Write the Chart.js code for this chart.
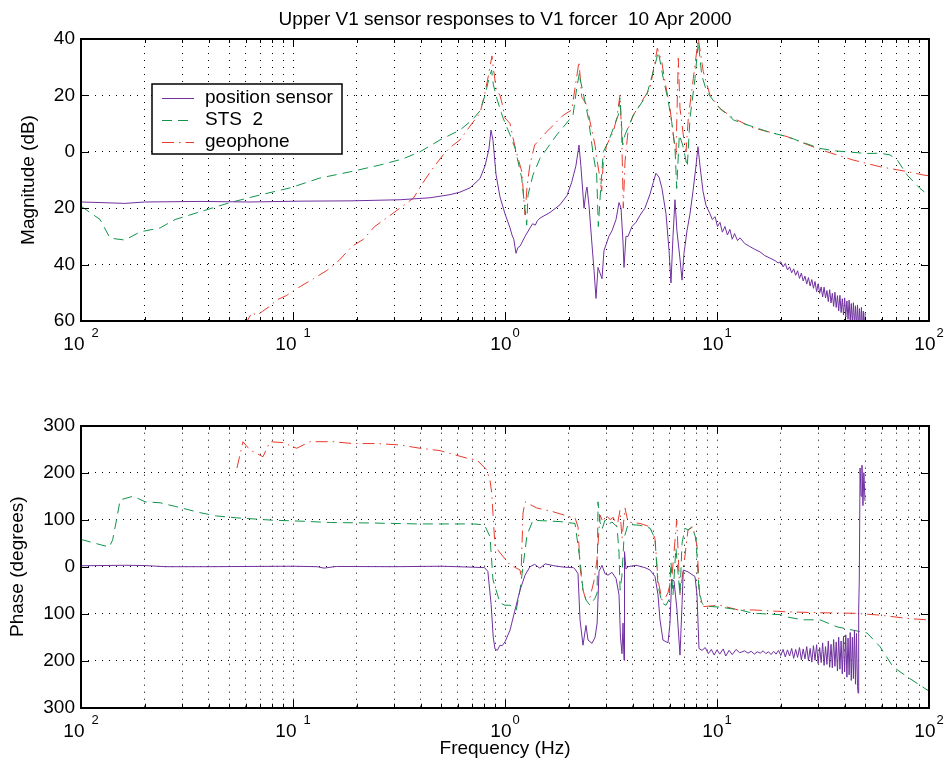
<!DOCTYPE html>
<html>
<head>
<meta charset="utf-8">
<script src="https://cdn.jsdelivr.net/npm/chart.js@4.4.1/dist/chart.umd.min.js"></script>
<style>
  body { margin: 0; background: #fff; }
  .panel { position: absolute; left: 0; width: 945px; height: 383px; }
</style>
</head>
<body>
<div class="panel" style="top:0"><canvas id="mag"></canvas></div>
<div class="panel" style="top:383px"><canvas id="phase"></canvas></div>
<script>
// ---- data: [frequency Hz, value] ----
const chartTitle = 'Upper V1 sensor responses to V1 forcer  10 Apr 2000';
const seriesLabels = ['position sensor', 'STS  2', 'geophone'];
const decadeExps = [-2, -1, 0, 1, 2];
const magTicks = [-60, -40, -20, 0, 20, 40];
const phaseTicks = [-300, -200, -100, 0, 100, 200, 300];

const posMag = [[0.01,-17.8],[0.0123,-18.0],[0.0161,-18.3],[0.02,-17.8],[0.0364,-17.6],[0.0627,-17.8],[0.108,-17.5],
  [0.186,-17.4],[0.32,-17.0],[0.443,-16.3],[0.55,-15.2],[0.613,-14.3],[0.684,-12.8],[0.762,-9.5],[0.805,-5],[0.84,1],
  [0.859,7.7],[0.878,4],[0.907,-8],[0.947,-16],[1.0,-22],[1.056,-27],[1.079,-29.5],[1.1,-31],[1.127,-36],[1.15,-34],
  [1.177,-33.5],[1.243,-30],[1.312,-27],[1.35,-25.5],[1.39,-26],[1.42,-24.5],[1.463,-23.5],[1.631,-21.5],[1.817,-18.8],
  [1.96,-15.5],[2.06,-11],[2.16,-5],[2.234,2.4],[2.28,-5],[2.359,-20],[2.411,-14],[2.437,-12.5],[2.49,-19],[2.573,-33],
  [2.63,-42],[2.687,-52],[2.746,-41],[2.806,-43],[2.868,-45],[2.93,-35],[2.995,-33],[3.09,-30],[3.197,-28],[3.34,-24],
  [3.45,-18],[3.526,-20],[3.603,-32],[3.642,-41],[3.72,-30],[3.804,-30],[3.97,-26.5],[4.15,-25],[4.333,-22.5],[4.57,-20],
  [4.831,-15],[5.0,-11],[5.15,-7.6],[5.33,-9],[5.5,-13],[5.747,-22],[5.94,-35],[6.067,-46.5],[6.2,-30],[6.337,-17],
  [6.47,-28],[6.69,-38],[6.84,-45.5],[6.987,-36],[7.22,-28],[7.458,-22],[7.705,-14],[7.96,-5],[8.135,1.8],[8.313,-5],
  [8.59,-14],[8.87,-19],[9.268,-22],[9.5,-24],[9.8,-23],[10.05,-26.5],[10.33,-25],[10.6,-28.5],[10.9,-26.5],[11.2,-29.5],
  [11.5,-27.5],[11.8,-31],[12.1,-29],[12.5,-31.5],[12.84,-30.5],[13.5,-32.5],[14.2,-33.5],[15.0,-34.5],[15.95,-35.5],
  [16.8,-36.8],[17.78,-37.7],[18.8,-38.6],[19.4,-39.4],
  [20,-39.0],[20.5,-40.8],[21,-39.6],[21.5,-41.9],[22,-40.8],[22.5,-42.9],[23,-41.5],[23.5,-43.8],[24,-42.2],[24.5,-44.9],
  [25,-43.0],[25.5,-45.8],[26,-44.1],[26.5,-46.9],[27,-44.6],[27.5,-47.6],[28,-45.3],[28.5,-48.4],[29,-46.0],[29.5,-49.6],
  [30,-46.8],[30.5,-50.2],[31,-47.9],[31.5,-51.5],[32,-48.0],[32.5,-51.8],[33,-49.2],[33.5,-53.1],[34,-48.9],[34.5,-53.6],
  [35,-50.2],[35.5,-54.8],[36,-49.8],[36.5,-55.2],[37,-51.0],[37.5,-56.4],[38,-50.9],[38.5,-57.0],[39,-52.1],[39.5,-57.9],
  [40,-51.8],[40.5,-58.6],[41,-52.9],[41.5,-59.4],[42,-52.6],[42.5,-60.1],[43,-53.8],[43.5,-61.0],[44,-53.5],[44.5,-61.6],
  [45,-54.6],[45.5,-62.2],[46,-54.3],[46.5,-62.8],[47,-55.6],[47.5,-63.4],[48,-55.2],[48.5,-63.8],[49,-56.5],[49.5,-64.2],
  [50,-57.0]];

const stsMag = [[0.01,-19.3],[0.0123,-24],[0.0137,-30.6],[0.0161,-31.3],[0.019,-28.4],[0.0236,-27],[0.0278,-24],
  [0.0364,-21.3],[0.0505,-18],[0.07,-15.3],[0.0968,-12.8],[0.134,-9.3],[0.186,-7.1],[0.257,-4.7],[0.33,-2.5],[0.397,0],
  [0.4935,4.2],[0.613,7.7],[0.70,11.3],[0.762,14.5],[0.805,20],[0.84,26],[0.865,29],[0.88,24],[0.914,19],[0.979,12],
  [1.056,6],[1.115,1.3],[1.152,-3.5],[1.199,-9.3],[1.216,-14],[1.266,-26],[1.284,-15.3],[1.355,-8.2],[1.463,-2.3],
  [1.754,6],[1.919,9.5],[2.093,13],[2.179,22.6],[2.246,28],[2.259,26],[2.385,17.8],[2.472,11.9],[2.609,-1.1],[2.707,-8.2],
  [2.755,-26.5],[2.828,-13],[2.909,0],[3.071,3.6],[3.243,8.3],[3.423,13],[3.487,19],[3.592,2.4],[3.681,6],[4.029,13],
  [4.66,20.1],[5.1,30.8],[5.286,35.5],[5.581,26],[5.893,17.8],[6.113,10.7],[6.337,1.2],[6.457,-13],[6.641,6],[6.889,2.4],
  [7.241,-5.3],[7.458,11.9],[7.875,26],[8.162,39],[8.47,27.2],[8.941,21.3],[9.968,16.6],[10.6,14.5],[11.3,13.2],[11.94,11.3],
  [13.2,10.1],[14.79,8.9],[17.5,7],[21.39,5.4],[25.5,3.3],[30.6,1.2],[36.5,0.3],[43.8,-0.2],[51,-0.6],[58.73,-0.5],
  [65.46,-1.1],[71,-3],[78.75,-8.2],[90.69,-13],[100,-15.5]];

const geoMag = [[0.058,-61],[0.0608,-60],[0.064,-57],[0.0675,-58],[0.072,-56.5],[0.077,-55],[0.084,-52.5],[0.093,-51],
  [0.108,-47.8],[0.125,-45],[0.145,-42],[0.165,-38.5],[0.19,-33.5],[0.215,-31],[0.242,-26.6],[0.27,-24],[0.3,-21.5],
  [0.34,-18.5],[0.37,-16.4],[0.41,-11],[0.45,-6.5],[0.506,-1.5],[0.55,1.5],[0.613,4.2],[0.69,9.5],[0.762,13.7],[0.80,20],
  [0.835,27],[0.868,34],[0.88,30],[0.91,22],[0.947,20],[0.97,17],[1.0,12],[1.056,10],[1.09,5],[1.13,0],[1.2,-7],
  [1.243,-22.4],[1.27,-12.4],[1.31,-4.7],[1.38,2.4],[1.573,7.1],[1.884,13],[2.064,14.8],[2.234,32],[2.301,19.5],
  [2.429,16.6],[2.518,10.7],[2.658,2.4],[2.725,-3.5],[2.806,-9.4],[2.858,-14],[2.909,-3.5],[3.018,2.4],[3.243,7.1],
  [3.364,11.9],[3.487,20.1],[3.552,6],[3.614,-20],[3.681,-3.5],[3.816,8.3],[4.029,13],[4.413,17.8],[4.831,22.5],[5.1,32],
  [5.23,36.7],[5.485,32],[5.685,24.9],[6.002,15.4],[6.221,6],[6.405,-1.1],[6.568,33.2],[6.69,15.4],[6.934,6],[7.141,0],
  [7.322,11.9],[7.731,26],[8.162,40.2],[8.617,28.4],[9.268,20.1],[10.33,15.4],[11.94,11.9],[14.79,8.5],[21.39,5.4],
  [30.6,0.8],[43.8,-2.9],[58.73,-5.3],[78.75,-7],[93.69,-8.2],[100,-8.5]];

const posPhase = [[0.01,2],[0.016,3],[0.02,2.5],[0.025,0],[0.04,0],[0.1,1],[0.13,0],[0.14,-3],[0.16,0.5],[0.3,0],[0.5,1],
  [0.7,-1],[0.8,-2],[0.83,-10],[0.86,-80],[0.88,-150],[0.897,-175],[0.92,-178],[0.947,-167],[0.97,-168],[1.0,-160],
  [1.056,-135],[1.115,-92],[1.177,-50],[1.243,-18],[1.312,0],[1.38,5],[1.46,-3],[1.55,6],[1.7,2],[1.9,-1],[2.1,-2],
  [2.139,-5],[2.21,-15],[2.259,-113],[2.333,-167],[2.41,-125],[2.464,-156],[2.573,-163],[2.66,-150],[2.72,-120],
  [2.776,-10],[2.868,3],[2.963,-15],[3.061,-18],[3.197,-12],[3.34,-25],[3.45,-60],[3.505,-150],[3.564,-185],[3.603,-120],
  [3.642,-199],[3.662,32],[3.72,-5],[3.804,0],[4.15,3],[4.57,-2],[4.831,-7],[5.1,-21],[5.269,-60],[5.384,-113],
  [5.56,-156],[5.873,-162],[6.002,-120],[6.113,-28],[6.268,-30],[6.47,-90],[6.69,-188],[6.84,-80],[6.934,-7],[7.297,-11],
  [7.875,-21],[8.047,-60],[8.224,-174],[8.5,-178],[8.8,-172],[9.1,-185],[9.4,-176],[9.7,-188],[10.0,-177],[10.3,-186],
  [10.7,-175],[11.0,-190],[11.4,-178],[11.8,-187],[12.3,-176],[12.8,-183],
  [13,-182],[13.5,-179],[14,-184],[14.5,-180],[15,-186],[15.5,-181],[16,-184],[16.5,-179],[17,-185],[17.5,-181],
  [18,-187],[18.5,-180],[19,-186],[19.5,-178],[20,-189],[20.5,-176],[21,-192],[21.5,-177],[22,-190],[22.5,-174],
  [23,-195],[23.5,-176],[24,-193],[24.5,-172],[25,-198],[25.5,-175],[26,-196],[26.5,-170],[27,-200],[27.5,-174],
  [28,-203],[28.5,-168],[29,-199],[29.5,-166],[30,-206],[30.5,-172],[31,-204],[31.5,-162],[32,-210],[32.5,-170],
  [33,-208],[33.5,-158],[34,-214],[34.5,-165],[35,-215],[35.5,-155],[36,-212],[36.5,-160],[37,-222],[37.5,-150],
  [38,-218],[38.5,-158],[39,-228],[39.5,-148],[40,-224],[40.5,-145],[41,-235],[41.5,-152],[42,-230],[42.5,-140],
  [43,-242],[43.5,-150],[44,-238],[44.5,-135],[45,-250],[45.5,-142],[46,-255],[46.3,-269],[46.6,-90],[46.9,-28],
  [47.3,210],[47.8,150],[48.3,216],[48.8,130],[49.3,200],[49.9,140]];

const stsPhase = [[0.01,58],[0.0123,47],[0.0136,42],[0.0141,57],[0.0148,106],[0.0153,142],[0.0176,150],[0.0201,138],
  [0.0236,136],[0.028,128],[0.0364,115],[0.0435,108],[0.054,104],[0.0685,101],[0.0795,99],[0.108,97],[0.15,94],[0.23,93],
  [0.39,91],[0.6,91],[0.71,91],[0.80,89],[0.8495,64],[0.8778,-28],[0.9471,-77],[1.0,-82],[1.056,-82],[1.13,-92],
  [1.177,-50],[1.27,67],[1.355,99],[1.463,98],[1.817,96],[2.139,92],[2.259,14],[2.333,-50],[2.411,-71],[2.518,-82],
  [2.658,-67],[2.72,-56],[2.746,138],[2.806,95],[2.87,80],[2.963,99],[3.06,90],[3.197,95],[3.376,85],[3.45,30],
  [3.49,-50],[3.56,-20],[3.64,60],[3.804,90],[4.33,88],[4.831,82],[5.1,60],[5.27,-40],[5.5,-77],[5.747,-82],[5.94,-70],
  [6.067,10],[6.2,-60],[6.4,40],[6.69,-60],[6.84,50],[7.06,82],[7.3,78],[7.62,85],[7.96,60],[8.22,-50],[8.5,-78],
  [8.78,-84],[10.33,-86],[12.84,-92],[14.79,-99],[19.83,-102],[21.39,-107],[25.46,-113],[30.6,-113],[36.81,-128],
  [43.8,-135],[51.0,-141],[58.73,-170],[67.64,-213],[78.75,-234],[97.86,-262],[100,-264]];

const geoPhase = [[0.0544,210],[0.0581,266],[0.0627,248],[0.0722,234],[0.0779,266],[0.0897,264],[0.1041,252],
  [0.1203,266],[0.1544,266],[0.1919,262],[0.2482,262],[0.3196,259],[0.3972,252],[0.4935,247],[0.6597,231],[0.7377,227],
  [0.8198,206],[0.8495,184],[0.8658,157],[0.8971,43],[0.9817,21],[1.056,4],[1.177,-7],[1.19,-20],[1.216,114],[1.243,138],
  [1.411,125],[1.684,117],[2.026,106],[2.139,104],[2.21,85],[2.259,0],[2.333,-50],[2.411,-71],[2.518,-65],[2.63,-30],
  [2.716,15],[2.806,110],[2.899,95],[2.995,110],[3.13,100],[3.24,105],[3.376,85],[3.487,120],[3.564,60],[3.681,125],
  [3.804,95],[4.333,92],[4.831,85],[5.1,60],[5.269,-28],[5.502,-71],[5.685,-68],[5.873,-55],[6.133,-20],[6.457,99],
  [6.69,-60],[6.987,5],[7.297,78],[7.705,85],[8.047,45],[8.313,-71],[8.59,-85],[10.33,-82],[12.6,-92],[14.79,-92],
  [21.39,-96],[30.6,-98],[43.8,-99],[58.73,-103],[78.75,-110],[97.86,-113],[100,-113]];

// ---- styles ----
const FONT = '"Liberation Sans", Arial, Helvetica, sans-serif';
const colors = ['#7030a0', '#10944a', '#e83a2c'];
const dashes = [[], [10, 6], [12, 5, 1.5, 5]];

const logTicks = [];
for (let e = -2; e <= 1; e++) {
    for (let m = 1; m <= 9; m++) logTicks.push(m * Math.pow(10, e));
}
logTicks.push(100);

function toPoints(pairs) {
    return pairs.map(p => ({ x: p[0], y: p[1] }));
}

function makeDatasets(series) {
    return series.map((s, i) => ({
        label: seriesLabels[i],
        data: toPoints(s),
        borderColor: colors[i],
        borderWidth: 1,
        borderDash: dashes[i],
        pointRadius: 0,
        tension: 0,
        fill: false
    }));
}

function isDecade(v) {
    const l = Math.log10(v);
    return Math.abs(l - Math.round(l)) < 1e-9;
}

// frame, inward ticks, 10^n labels, title and legend (MATLAB look)
const bodeFrame = {
    id: 'bodeFrame',
    afterDraw(chart, args, opts) {
        const ctx = chart.ctx;
        const a = chart.chartArea;
        const xs = chart.scales.x;
        const ys = chart.scales.y;
        ctx.save();

        ctx.strokeStyle = '#000';
        ctx.lineWidth = 1;
        ctx.setLineDash([]);
        ctx.beginPath();
        logTicks.forEach(v => {
            const px = Math.round(xs.getPixelForValue(v)) + 0.5;
            const len = isDecade(v) ? 8 : 4;
            ctx.moveTo(px, a.bottom); ctx.lineTo(px, a.bottom - len);
            ctx.moveTo(px, a.top); ctx.lineTo(px, a.top + len);
        });
        ys.ticks.forEach(t => {
            const py = Math.round(ys.getPixelForValue(t.value)) + 0.5;
            ctx.moveTo(a.left, py); ctx.lineTo(a.left + 8, py);
            ctx.moveTo(a.right, py); ctx.lineTo(a.right - 8, py);
        });
        ctx.stroke();

        ctx.lineWidth = 2;
        ctx.strokeRect(Math.round(a.left), Math.round(a.top), Math.round(a.right - a.left), Math.round(a.bottom - a.top));

        // decade labels: "10" with raised exponent (minus signs are blank in the original)
        ctx.fillStyle = '#000';
        ctx.textBaseline = 'alphabetic';
        ctx.textAlign = 'left';
        decadeExps.forEach(e => {
            const px = xs.getPixelForValue(Math.pow(10, e));
            ctx.font = '19px ' + FONT;
            const w1 = ctx.measureText('10').width;
            ctx.font = '13px ' + FONT;
            const expStr = String(Math.abs(e));
            const w2 = ctx.measureText(expStr).width;
            const gap = e < 0 ? 7 : 1;
            const x0 = px - (w1 + gap + w2) / 2;
            ctx.font = '19px ' + FONT;
            ctx.fillText('10', x0, a.bottom + 29);
            ctx.font = '13px ' + FONT;
            ctx.fillText(expStr, x0 + w1 + gap, a.bottom + 16);
        });

        if (opts.title) {
            ctx.font = '19px ' + FONT;
            ctx.textAlign = 'center';
            ctx.fillText(opts.title, (a.left + a.right) / 2, 24.5);
        }

        if (opts.legend) {
            const L = opts.legend;
            ctx.fillStyle = '#fff';
            ctx.fillRect(L.x, L.y, L.w, L.h);
            ctx.lineWidth = 1.5;
            ctx.strokeStyle = '#000';
            ctx.strokeRect(L.x, L.y, L.w, L.h);
            chart.data.datasets.forEach((ds, i) => {
                const cy = L.y + 14 + i * 22;
                ctx.strokeStyle = ds.borderColor;
                ctx.lineWidth = 1;
                ctx.setLineDash(ds.borderDash);
                ctx.beginPath();
                ctx.moveTo(L.x + 10, cy + 0.5);
                ctx.lineTo(L.x + 42, cy + 0.5);
                ctx.stroke();
                ctx.setLineDash([]);
                ctx.fillStyle = '#000';
                ctx.font = '19px ' + FONT;
                ctx.textAlign = 'left';
                ctx.textBaseline = 'middle';
                ctx.fillText(ds.label, L.x + 53, cy);
            });
        }
        ctx.restore();
    }
};

function makeChart(canvas, cfg) {
    return new Chart(canvas.getContext('2d'), {
        type: 'line',
        data: { datasets: makeDatasets(cfg.series) },
        plugins: [bodeFrame],
        options: {
            responsive: true,
            maintainAspectRatio: false,
            animation: false,
            layout: { padding: { top: cfg.padTop, right: 16, left: 0, bottom: 0 } },
            plugins: {
                legend: { display: false },
                tooltip: { enabled: false },
                bodeFrame: { title: cfg.title, legend: cfg.legend }
            },
            scales: {
                x: {
                    type: 'logarithmic',
                    min: 0.01,
                    max: 100,
                    afterBuildTicks: s => { s.ticks = logTicks.map(v => ({ value: v })); },
                    afterFit: s => { s.height = cfg.xHeight; },
                    ticks: { display: false },
                    grid: { color: '#000', lineWidth: 1, drawTicks: false },
                    border: { display: false, dash: [1, 6] },
                    title: {
                        display: !!cfg.xTitle,
                        text: cfg.xTitle || '',
                        color: '#000',
                        font: { family: FONT, size: 19 },
                        padding: { top: 0, bottom: 5.6 }
                    }
                },
                y: {
                    type: 'linear',
                    min: cfg.ticks[0],
                    max: cfg.ticks[cfg.ticks.length - 1],
                    afterBuildTicks: s => { s.ticks = cfg.ticks.map(v => ({ value: v })); },
                    afterFit: s => { s.width = 81; },
                    ticks: {
                        color: '#000',
                        padding: 6,
                        font: { family: FONT, size: 19 },
                        callback: v => String(Math.abs(v))
                    },
                    grid: { color: '#000', lineWidth: 1, drawTicks: false },
                    border: { display: false, dash: [1, 6] },
                    title: {
                        display: true,
                        text: cfg.yTitle,
                        color: '#000',
                        font: { family: FONT, size: 19 },
                        padding: { top: cfg.yTitlePad, bottom: 0 }
                    }
                }
            }
        }
    });
}

makeChart(document.getElementById('mag'), {
    series: [posMag, stsMag, geoMag],
    ticks: magTicks,
    yTitle: 'Magnitude (dB)',
    yTitlePad: 17.6,
    padTop: 39,
    xHeight: 62,
    title: chartTitle,
    legend: { x: 152, y: 84, w: 190, h: 70 }
});

makeChart(document.getElementById('phase'), {
    series: [posPhase, stsPhase, geoPhase],
    ticks: phaseTicks,
    yTitle: 'Phase (degrees)',
    yTitlePad: 6,
    padTop: 42.7,
    xHeight: 58.3,
    xTitle: 'Frequency (Hz)'
});
</script>
</body>
</html>
